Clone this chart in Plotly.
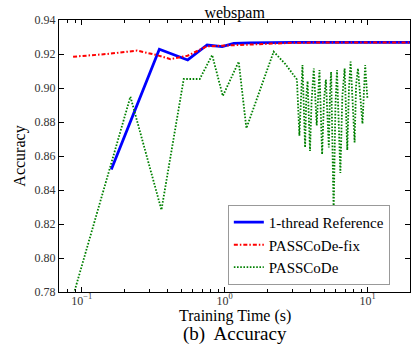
import plotly.graph_objects as go

# 1-thread Reference
ref_t = [0.161, 0.349, 0.551, 0.753, 0.96, 1.157, 1.5, 2.0, 3.0, 5.0, 8.0, 12.0, 20.0]
ref_acc = [0.852, 0.9228, 0.9165, 0.9253, 0.9243, 0.9263, 0.9266, 0.9268, 0.9268, 0.9268, 0.9268, 0.9268, 0.9268]

# PASSCoDe-fix
fix_t = [0.087, 0.15, 0.244, 0.33, 0.418, 0.55, 0.75, 1.0, 1.5, 2.0, 3.0, 5.0, 8.0, 12.0, 20.0]
fix_acc = [0.9184, 0.920, 0.922, 0.9195, 0.917, 0.919, 0.9245, 0.925, 0.9255, 0.926, 0.9266, 0.9268, 0.9268, 0.9268, 0.9268]

# PASSCoDe
pc_t = [0.082, 0.219, 0.361, 0.517, 0.669, 0.817, 0.97, 1.253, 1.418, 2.20, 2.66, 3.04,
        3.2, 3.33, 3.42, 3.5, 3.65, 3.72, 3.8, 3.95, 4.05, 4.2, 4.4, 4.5, 4.6, 4.8, 4.95, 5.1, 5.35,
        5.45, 5.55, 5.78, 5.95, 6.1, 6.44, 6.65, 6.9, 7.2, 7.4, 7.6, 8.1, 8.3, 8.55, 9.2, 9.4, 9.6, 9.95]
pc_acc = [0.770, 0.8949, 0.8283, 0.9053, 0.9053, 0.9194, 0.8953, 0.9155, 0.8763, 0.9214, 0.914, 0.908,
          0.905, 0.872, 0.900, 0.9135, 0.865, 0.895, 0.904, 0.863, 0.892, 0.9115, 0.878, 0.898, 0.9105, 0.861,
          0.893, 0.905, 0.865, 0.897, 0.9095, 0.827, 0.890, 0.9105, 0.850, 0.895, 0.9115, 0.8635, 0.900,
          0.9155, 0.868, 0.902, 0.9115, 0.879, 0.903, 0.9135, 0.894]

y_ticks = [0.78, 0.80, 0.82, 0.84, 0.86, 0.88, 0.90, 0.92, 0.94]
x_ticks = [0.1, 1, 10]
x_ticktext = ["10<sup>−1</sup>", "10<sup>0</sup>", "10<sup>1</sup>"]
x_minor = [0.08, 0.09] + [k * 0.1 for k in range(2, 10)] + list(range(2, 10)) + [20]

FONT = "Liberation Serif"

fig = go.Figure()
fig.add_trace(go.Scatter(x=ref_t, y=ref_acc, mode="lines", name="1-thread Reference",
                         line=dict(color="#0000ff", width=2.8)))
fig.add_trace(go.Scatter(x=fix_t, y=fix_acc, mode="lines", name="PASSCoDe-fix",
                         line=dict(color="#ff0000", width=2, dash="4px,2px,1.5px,2px")))
fig.add_trace(go.Scatter(x=pc_t, y=pc_acc, mode="lines", name="PASSCoDe",
                         line=dict(color="#008000", width=1.8, dash="1.6px,1.6px")))

fig.update_layout(
    width=414, height=350,
    margin=dict(l=59, r=4, t=20, b=58),
    paper_bgcolor="white", plot_bgcolor="white",
    font=dict(family=FONT, color="black", size=12),
    title=dict(text="webspam", x=0.5667, xanchor="center", y=0.965, yanchor="middle",
               font=dict(size=16, family=FONT, color="black")),
    showlegend=True,
    legend=dict(x=0.481, y=0.026, xanchor="left", yanchor="bottom",
                bgcolor="white", bordercolor="#999999", borderwidth=1,
                font=dict(size=15, family=FONT), itemwidth=30, tracegroupgap=0),
)
fig.update_xaxes(type="log", range=[-1.159, 1.296],
                 tickvals=x_ticks, ticktext=x_ticktext,
                 ticks="inside", ticklen=5, tickwidth=1, tickcolor="black",
                 showline=True, linecolor="black", linewidth=1.2, mirror="ticks",
                 showgrid=False, zeroline=False, ticklabelstandoff=-3,
                 minor=dict(tickvals=x_minor, ticks="inside", ticklen=2.5, tickcolor="black", showgrid=False),
                 tickfont=dict(size=12, family=FONT, color="#333333"))
fig.update_yaxes(range=[0.78, 0.94], tickvals=y_ticks,
                 ticktext=["%.2f" % v for v in y_ticks],
                 ticks="inside", ticklen=5, tickwidth=1, tickcolor="black",
                 showline=True, linecolor="black", linewidth=1.2, mirror="ticks",
                 showgrid=False, zeroline=False,
                 tickfont=dict(size=12, family=FONT, color="#333333"),
                 title=dict(text="Accuracy", font=dict(size=16, family=FONT), standoff=4))

fig.add_annotation(text="Training Time (s)", xref="paper", yref="paper", x=0.5, y=0, yshift=-24,
                   xanchor="center", yanchor="middle", showarrow=False,
                   font=dict(size=16, family=FONT, color="black"))
fig.add_annotation(text="(b)  Accuracy", xref="paper", yref="paper", x=0.5, y=0, yshift=-42,
                   xanchor="center", yanchor="middle", showarrow=False,
                   font=dict(size=19, family=FONT, color="black"))

fig.write_html("out.html", config={"displayModeBar": False},
               post_script="document.body.style.margin='0px';")
